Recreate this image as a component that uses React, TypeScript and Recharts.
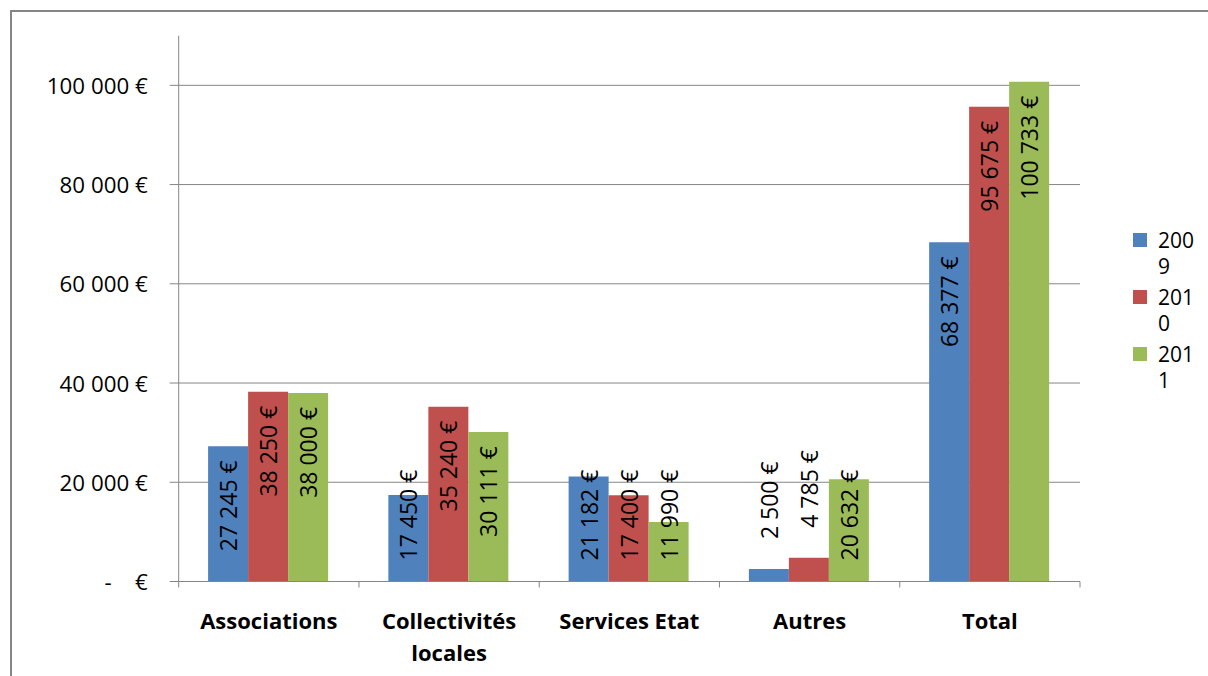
import React from "react";
import { BarChart, Bar, XAxis, YAxis, CartesianGrid, LabelList } from "recharts";

const categories = ["Associations", "Collectivités locales", "Services Etat", "Autres", "Total"];
const years = ["2009", "2010", "2011"];
const values2009 = [27245, 17450, 21182, 2500, 68377];
const values2010 = [38250, 35240, 17400, 4785, 95675];
const values2011 = [38000, 30111, 11990, 20632, 100733];
const yTicks = [0, 20000, 40000, 60000, 80000, 100000];
const colors = ["#4F81BD", "#C0504D", "#9BBB59"];

const seriesValues = [values2009, values2010, values2011];
const data = categories.map((c, i) => {
  const row: Record<string, any> = { category: c };
  years.forEach((y, k) => {
    row[y] = seriesValues[k][i];
  });
  return row;
});

const W = 1208;
const H = 676;
const PLOT_LEFT = 178.7;
const PLOT_RIGHT = 1080;
const PLOT_TOP = 35.7;
const PLOT_BOTTOM = 581.5;
const Y_MAX = 110000;
const BAND = (PLOT_RIGHT - PLOT_LEFT) / categories.length;
const FONT = "'Open Sans', 'DejaVu Sans', sans-serif";
const GRAY = "#868686";
const LABEL_SIZE = 23;

const fmt = (v: number) => String(v).replace(/\B(?=(\d{3})+(?!\d))/g, " ") + " €";

const YTick = (props: any) => {
  const { x, y, payload } = props;
  const v = payload.value as number;
  const txt = v === 0 ? "-    €" : fmt(v);
  return (
    <text
      x={x}
      y={y}
      textAnchor="end"
      dominantBaseline="central"
      fontFamily={FONT}
      fontSize={22.3}
      fill="#000"
      style={{ whiteSpace: "pre" }}
    >
      {txt}
    </text>
  );
};

const XTick = (props: any) => {
  const { x, payload, index } = props;
  const label: string = payload.value;
  const lines = label.length > 14 ? label.split(" ") : [label];
  return (
    <g>
      <line x1={x - BAND / 2} x2={x - BAND / 2} y1={PLOT_BOTTOM} y2={PLOT_BOTTOM + 6} stroke={GRAY} strokeWidth={1} />
      {index === categories.length - 1 && (
        <line x1={x + BAND / 2} x2={x + BAND / 2} y1={PLOT_BOTTOM} y2={PLOT_BOTTOM + 6} stroke={GRAY} strokeWidth={1} />
      )}
      {lines.map((ln, i) => (
        <text
          key={i}
          x={x}
          y={PLOT_BOTTOM + 38.5 + i * 32}
          textAnchor="middle"
          dominantBaseline="central"
          fontFamily={FONT}
          fontWeight="bold"
          fontSize={22}
          fill="#000"
        >
          {ln}
        </text>
      ))}
    </g>
  );
};

const BarLabel = (props: any) => {
  const vb = props.viewBox || {};
  const x = props.x ?? vb.x;
  const y = props.y ?? vb.y;
  const width = props.width ?? vb.width;
  const height = props.height ?? vb.height;
  const value = props.value as number;
  const txt = fmt(value);
  const len = txt.length * 0.5 * LABEL_SIZE;
  const cx = x + width / 2;
  let ty: number;
  let anchor: "start" | "end";
  if (height >= len + 24) {
    ty = y + 14;
    anchor = "end";
  } else if (height > 40) {
    ty = y + height - 21;
    anchor = "start";
  } else {
    ty = y - 30;
    anchor = "start";
  }
  return (
    <text
      x={cx}
      y={ty}
      transform={`rotate(-90, ${cx}, ${ty})`}
      textAnchor={anchor}
      dominantBaseline="central"
      fontFamily={FONT}
      fontSize={LABEL_SIZE}
      fill="#000"
    >
      {txt}
    </text>
  );
};

const LegendBox = () => (
  <div
    style={{
      position: "absolute",
      left: 1133,
      top: 227,
      width: 75,
      fontFamily: FONT,
      fontSize: 21,
      color: "#000",
    }}
  >
    {years.map((yr, i) => (
      <div key={yr} style={{ display: "flex", alignItems: "flex-start", marginBottom: 5 }}>
        <div style={{ width: 14, height: 14, background: colors[i], marginTop: 6, marginRight: 11, flex: "none" }} />
        <div style={{ width: 40, lineHeight: "26px", wordBreak: "break-all" }}>{yr}</div>
      </div>
    ))}
  </div>
);

const gridYs = (props: any) => {
  const ya = props && props.yAxis;
  if (ya && typeof ya.scale === "function") {
    return yTicks.map((t) => ya.scale(t));
  }
  const h = PLOT_BOTTOM - PLOT_TOP;
  return yTicks.map((t) => PLOT_BOTTOM - (t / Y_MAX) * h);
};

export default function App() {
  return (
    <div
      style={{
        position: "absolute",
        left: 0,
        top: 0,
        width: W,
        height: H,
        overflow: "hidden",
        background: "#fff",
      }}
    >
      <div style={{ position: "absolute", left: 10, top: 10, width: 2, height: H, background: GRAY }} />
      <div style={{ position: "absolute", left: 10, top: 10, width: W, height: 2, background: GRAY }} />
      <div style={{ position: "absolute", left: 0, top: 0 }}>
        <BarChart
          width={W}
          height={H}
          data={data}
          margin={{ top: PLOT_TOP, right: W - PLOT_RIGHT, left: 0, bottom: 0 }}
          barCategoryGap={29.4}
          barGap={0}
        >
          <CartesianGrid
            horizontal={true}
            vertical={false}
            stroke={GRAY}
            strokeWidth={1}
            horizontalCoordinatesGenerator={gridYs}
          />
          <XAxis
            dataKey="category"
            height={H - PLOT_BOTTOM}
            axisLine={{ stroke: GRAY, strokeWidth: 1 }}
            tickLine={false}
            tick={<XTick />}
            interval={0}
          />
          <YAxis
            width={PLOT_LEFT}
            domain={[0, Y_MAX]}
            ticks={yTicks}
            allowDataOverflow={true}
            axisLine={{ stroke: GRAY, strokeWidth: 1 }}
            tickLine={{ stroke: GRAY, strokeWidth: 1 }}
            tickSize={9}
            tickMargin={22}
            tick={<YTick />}
          />
          {years.map((yr, k) => (
            <Bar key={yr} dataKey={yr} name={yr} fill={colors[k]} isAnimationActive={false}>
              <LabelList dataKey={yr} content={<BarLabel />} />
            </Bar>
          ))}
        </BarChart>
      </div>
      <LegendBox />
    </div>
  );
}
